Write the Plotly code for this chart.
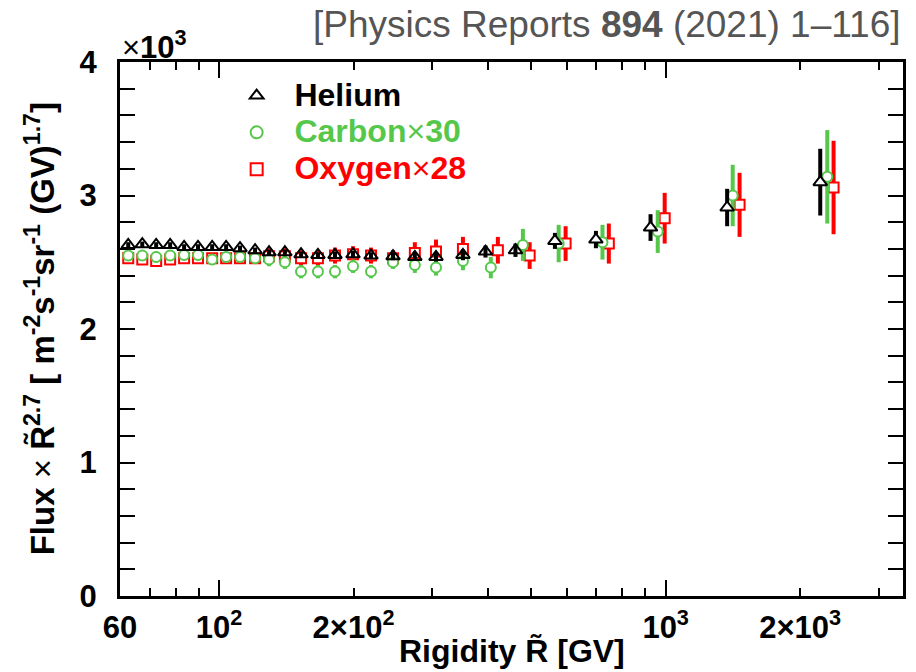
import plotly.graph_objects as go
import math

# Rigidity bins [GV] and Flux x R^2.7 values in units of 10^3 [m^-2 s^-1 sr^-1 GV^1.7]
he_R = [62.6, 67.3, 72.3, 77.7, 83.5, 89.7, 96.5, 103.7, 111.4, 120.4, 129.4, 140.4,
        152.6, 166.5, 181.8, 199.5, 218.9, 245.2, 274.4, 306, 351.6, 395, 461, 565,
        698, 925, 1373, 2219]
he_F = [2.63, 2.635, 2.63, 2.63, 2.615, 2.615, 2.615, 2.615, 2.605, 2.59, 2.575, 2.575,
        2.56, 2.555, 2.555, 2.56, 2.55, 2.545, 2.54, 2.54, 2.555, 2.58, 2.59, 2.66,
        2.67, 2.76, 2.91, 3.10]
he_E = [0.02, 0.02, 0.02, 0.02, 0.02, 0.02, 0.02, 0.02, 0.02, 0.02, 0.02, 0.02,
        0.02, 0.02, 0.025, 0.025, 0.025, 0.03, 0.03, 0.035, 0.04, 0.045, 0.05, 0.06,
        0.065, 0.10, 0.14, 0.25]

c_R = [62.6, 67.3, 72.3, 77.7, 83.5, 89.7, 96.5, 103.7, 111.4, 120.4, 129.4, 140.4,
       152.6, 166.5, 181.8, 199.5, 218.9, 245.2, 274.4, 306, 351.6, 406, 479, 576,
       722, 960, 1413, 2301]
c_F = [2.55, 2.55, 2.54, 2.55, 2.555, 2.555, 2.52, 2.54, 2.54, 2.53, 2.52, 2.50,
       2.43, 2.43, 2.43, 2.47, 2.43, 2.50, 2.48, 2.46, 2.51, 2.46, 2.63, 2.64,
       2.65, 2.73, 3.00, 3.14]
c_E = [0.04, 0.04, 0.04, 0.04, 0.04, 0.04, 0.04, 0.04, 0.04, 0.04, 0.05, 0.05,
       0.05, 0.05, 0.05, 0.05, 0.05, 0.05, 0.06, 0.06, 0.07, 0.08, 0.12, 0.14,
       0.13, 0.16, 0.23, 0.35]

o_R = [62.6, 67.3, 72.3, 77.7, 83.5, 89.7, 96.5, 103.7, 111.4, 120.4, 129.4, 140.4,
       152.6, 166.5, 181.8, 199.5, 218.9, 245.2, 274.4, 306, 351.6, 421, 496, 597,
       746, 995, 1464, 2377]
o_F = [2.53, 2.52, 2.51, 2.52, 2.53, 2.53, 2.53, 2.53, 2.53, 2.53, 2.545, 2.545,
       2.53, 2.53, 2.55, 2.56, 2.55, 2.53, 2.57, 2.58, 2.60, 2.59, 2.55, 2.64,
       2.64, 2.83, 2.93, 3.06]
o_E = [0.04, 0.04, 0.04, 0.04, 0.04, 0.04, 0.04, 0.04, 0.04, 0.04, 0.06, 0.06,
       0.06, 0.06, 0.06, 0.06, 0.06, 0.06, 0.08, 0.09, 0.09, 0.10, 0.10, 0.13,
       0.15, 0.19, 0.24, 0.35]

x_tickvals = [60, 100, 200, 1000, 2000]
x_ticktext = ["60", "10<sup>2</sup>", "2×10<sup>2</sup>", "10<sup>3</sup>", "2×10<sup>3</sup>"]
x_minor = [70, 80, 90, 300, 400, 500, 600, 700, 800, 900, 3000]
x_major_long = [100, 1000]
x_range = [60, 3400]
y_range = [0, 4]
y_ticks = [0, 1, 2, 3, 4]

GREEN = "rgb(85,200,75)"
RED = "rgb(255,0,0)"
FONT = "Liberation Sans, Arial, Helvetica, sans-serif"
LEG = "font-size:32px"

fig = go.Figure()

fig.add_trace(go.Scatter(
    x=o_R, y=o_F, mode="markers",
    name=f"<span style='color:rgb(255,0,0);{LEG}'>&nbsp;&nbsp;<b>Oxygen</b>×<b>28</b></span>",
    error_y=dict(type="data", array=o_E, color=RED, thickness=4, width=0),
    marker=dict(symbol="square", size=10, color="white", line=dict(color=RED, width=2)),
))
fig.add_trace(go.Scatter(
    x=c_R, y=c_F, mode="markers",
    name=f"<span style='color:rgb(85,200,75);{LEG}'>&nbsp;&nbsp;<b>Carbon</b>×<b>30</b></span>",
    error_y=dict(type="data", array=c_E, color=GREEN, thickness=4, width=0),
    marker=dict(symbol="circle", size=10, color="white", line=dict(color=GREEN, width=2)),
))
he_fill = ["white" if r > 500 else "rgba(0,0,0,0)" for r in he_R]
fig.add_trace(go.Scatter(
    x=he_R, y=he_F, mode="markers",
    name=f"<span style='{LEG}'>&nbsp;&nbsp;<b>Helium</b></span>",
    error_y=dict(type="data", array=he_E, color="black", thickness=4, width=0),
    marker=dict(symbol="triangle-up", size=12, color=he_fill, line=dict(color="black", width=2)),
))
# helper trace for long major x ticks
fig.add_trace(go.Scatter(x=x_major_long, y=[None, None], xaxis="x2", showlegend=False,
                         hoverinfo="skip"))

fig.update_layout(
    width=916, height=672,
    margin=dict(l=120, r=10, t=62, b=76),
    plot_bgcolor="white", paper_bgcolor="white",
    font=dict(family=FONT, color="black"),
    showlegend=True,
    legend=dict(x=0.149, y=0.981, xanchor="left", yanchor="top", traceorder="reversed",
                bgcolor="rgba(0,0,0,0)", font=dict(size=26, family=FONT),
                itemsizing="constant"),
    xaxis=dict(type="log", range=[math.log10(x_range[0]), math.log10(x_range[1])],
               showgrid=False, zeroline=False, showline=True, linewidth=3, linecolor="black",
               mirror="allticks", ticks="inside", ticklen=8, tickwidth=2, tickcolor="black",
               tickmode="array", tickvals=x_tickvals, ticktext=x_ticktext,
               tickfont=dict(size=31, family=FONT, weight="bold"), ticklabelstandoff=2,
               minor=dict(tickmode="array", tickvals=x_minor, ticks="inside", ticklen=8,
                          tickwidth=2, tickcolor="black", showgrid=False)),
    xaxis2=dict(type="log", range=[math.log10(x_range[0]), math.log10(x_range[1])],
                overlaying="x", anchor="y", side="bottom", showgrid=False, zeroline=False,
                showline=False, mirror="allticks", ticks="inside", ticklen=16, tickwidth=2,
                tickcolor="black", tickmode="array", tickvals=x_major_long,
                showticklabels=False),
    yaxis=dict(range=y_range, showgrid=False, zeroline=False, showline=True, linewidth=3,
               linecolor="black", mirror="allticks", ticks="inside", ticklen=15, tickwidth=2,
               tickcolor="black", tickmode="array", tickvals=y_ticks,
               tickfont=dict(size=31, family=FONT, weight="bold"), ticklabelstandoff=14,
               minor=dict(dtick=0.2, ticks="inside", ticklen=8, tickwidth=2,
                          tickcolor="black", showgrid=False)),
    annotations=[
        dict(text="[Physics Reports <b>894</b> (2021) 1–116]", x=1, y=1 + 37 / 534,
             xref="paper", yref="paper", xanchor="right", yanchor="middle", showarrow=False,
             font=dict(size=37, color="rgb(85,85,85)", family=FONT)),
        dict(text="×<b>10<sup>3</sup></b>", x=0, y=1 + 17 / 534, xref="paper", yref="paper",
             xanchor="left", yanchor="middle", showarrow=False,
             font=dict(size=31, color="black", family=FONT)),
        dict(text="<b>Flux</b> × <b>R\u0303<sup>2.7</sup> [ m<sup>-2</sup>s<sup>-1</sup>sr<sup>-1</sup> (GV)<sup>1.7</sup>]</b>",
             x=-80 / 786, y=0.5, xref="paper", yref="paper", textangle=-90,
             xanchor="center", yanchor="middle", showarrow=False,
             font=dict(size=33, color="black", family=FONT)),
        dict(text="<b>Rigidity R\u0303 [GV]</b>", x=0.5, y=-55 / 534, xref="paper", yref="paper",
             xanchor="center", yanchor="middle", showarrow=False,
             font=dict(size=32, color="black", family=FONT)),
    ],
)

fig.write_html("out.html")
